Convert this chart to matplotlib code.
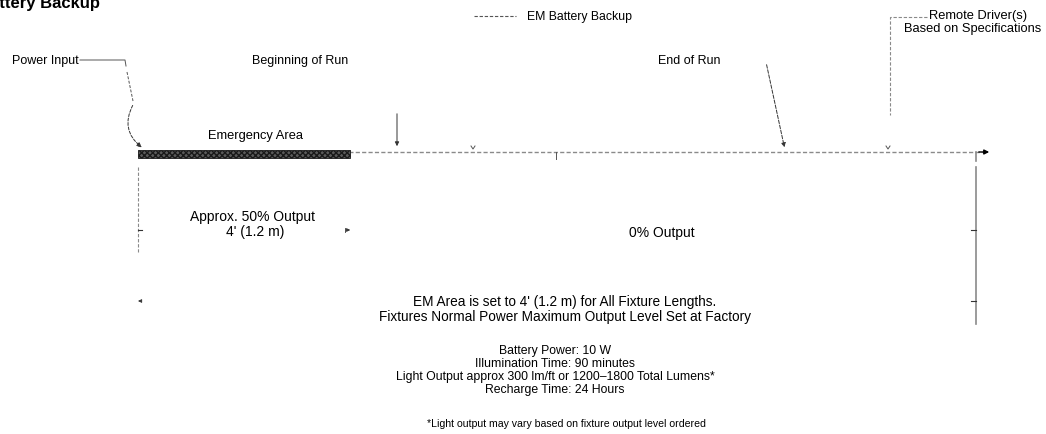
import matplotlib.pyplot as plt
from matplotlib.patches import Rectangle, FancyArrowPatch

plt.rcParams['font.family'] = ['Liberation Sans', 'DejaVu Sans']

# --- diagram text ---
title = "Battery Backup"
top_labels = ["Power Input", "Beginning of Run", "End of Run"]
legend_label = "EM Battery Backup"
driver_lines = ["Remote Driver(s)", "Based on Specifications"]
zone_labels = ["Approx. 50% Output", "4' (1.2 m)", "0% Output"]
em_note = ["EM Area is set to 4' (1.2 m) for All Fixture Lengths.",
           "Fixtures Normal Power Maximum Output Level Set at Factory"]
specs = ["Battery Power: 10 W",
         "Illumination Time: 90 minutes",
         "Light Output approx 300 lm/ft or 1200\u20131800 Total Lumens*",
         "Recharge Time: 24 Hours"]
footnote = "*Light output may vary based on fixture output level ordered"

W, H = 1046, 435
fig = plt.figure(figsize=(W / 100, H / 100), dpi=100)
ax = fig.add_axes([0, 0, 1, 1])
ax.set_xlim(0, W)
ax.set_ylim(H, 0)
ax.axis('off')

gray = '#8a8a8a'
dark = '#333333'
dash = (0, (3, 1.6))
fs = 9

# title, clipped at the left/top edge like the source
ax.text(-22, 8, title, fontsize=12, fontweight='bold', ha='left', va='baseline')

# legend line for EM battery backup
ax.plot([474, 516], [17, 17], color='#555555', lw=0.8, ls=dash)
ax.text(527, 17, legend_label, fontsize=8.8, va='center')

# remote driver
ax.plot([927, 890, 890], [18, 18, 116], color=gray, lw=0.8, ls=dash)
ax.text(978, 16, driver_lines[0], fontsize=9.3, va='center', ha='center')
ax.text(973, 29, driver_lines[1], fontsize=9.3, va='center', ha='center')

# main fixture line
ax.plot([138, 982], [153, 153], color=gray, lw=1.0, ls=dash, zorder=1)
ax.annotate('', xy=(992, 153), xytext=(976, 153),
            arrowprops=dict(arrowstyle='-|>', color='black', lw=1, mutation_scale=7))
ax.plot([976, 976], [153, 162], color=gray, lw=1.2)

# emergency area (hatched)
ax.add_patch(Rectangle((138, 151), 212, 8, facecolor='#5a5a5a', edgecolor='#1a1a1a',
                       hatch='xxxxxx', lw=0.6, zorder=2))
ax.text(255, 136, "Emergency Area", fontsize=9.3, ha='center', va='center')

# small tick marks on the line
for x in [473, 888]:
    ax.plot([x - 2, x, x + 2], [147, 150, 147], color='#555555', lw=0.7)
ax.plot([556, 556], [153, 160], color='#555555', lw=0.7)

# power input
ax.text(12, 61, top_labels[0], fontsize=fs, va='center')
ax.plot([80, 125, 126], [61, 61, 67], color='#555555', lw=0.7)
ax.plot([127, 133], [73, 102], color='#555555', lw=0.7, ls=dash)
ax.add_patch(FancyArrowPatch((134, 104), (144, 150), connectionstyle='arc3,rad=0.45',
                             arrowstyle='-|>', mutation_scale=7, color=dark,
                             lw=0.7, ls=dash))

# beginning of run
ax.text(300, 61, top_labels[1], fontsize=fs, va='center', ha='center')
ax.annotate('', xy=(397, 150), xytext=(397, 112),
            arrowprops=dict(arrowstyle='-|>', color=dark, lw=0.7, mutation_scale=6))

# end of run
ax.text(689, 61, top_labels[2], fontsize=fs, va='center', ha='center')
ax.annotate('', xy=(785, 151), xytext=(766, 63),
            arrowprops=dict(arrowstyle='-|>', color=dark, lw=0.7, ls='--',
                            mutation_scale=6))

# dimension lines
ax.plot([138, 138], [168, 253], color=gray, lw=0.8, ls=dash)
ax.plot([138, 142], [231, 231], color=dark, lw=0.8)
ax.annotate('', xy=(138, 302), xytext=(143, 302),
            arrowprops=dict(arrowstyle='-|>', color=dark, lw=0.6, mutation_scale=5))
ax.plot([976, 976], [168, 325], color=gray, lw=1.2)
for y in [231, 302]:
    ax.plot([971, 976], [y, y], color=dark, lw=0.8)
ax.annotate('', xy=(353, 231), xytext=(345, 231),
            arrowprops=dict(arrowstyle='-|>', color=dark, lw=0.6, mutation_scale=5))
ax.plot([345, 345], [229, 233], color=dark, lw=0.6)

# zone labels
ax.text(253, 217, zone_labels[0], fontsize=10, ha='center', va='center')
ax.text(255, 232, zone_labels[1], fontsize=10, ha='center', va='center')
ax.text(662, 233, zone_labels[2], fontsize=10, ha='center', va='center')

# notes
for i, line in enumerate(em_note):
    ax.text(565, 302 + i * 15, line, fontsize=9.8, ha='center', va='center')
for i, line in enumerate(specs):
    ax.text(555, 351 + i * 13, line, fontsize=8.8, ha='center', va='center')
ax.text(566, 424, footnote, fontsize=7.6, ha='center', va='center')

fig.savefig('out.png', dpi=100)
